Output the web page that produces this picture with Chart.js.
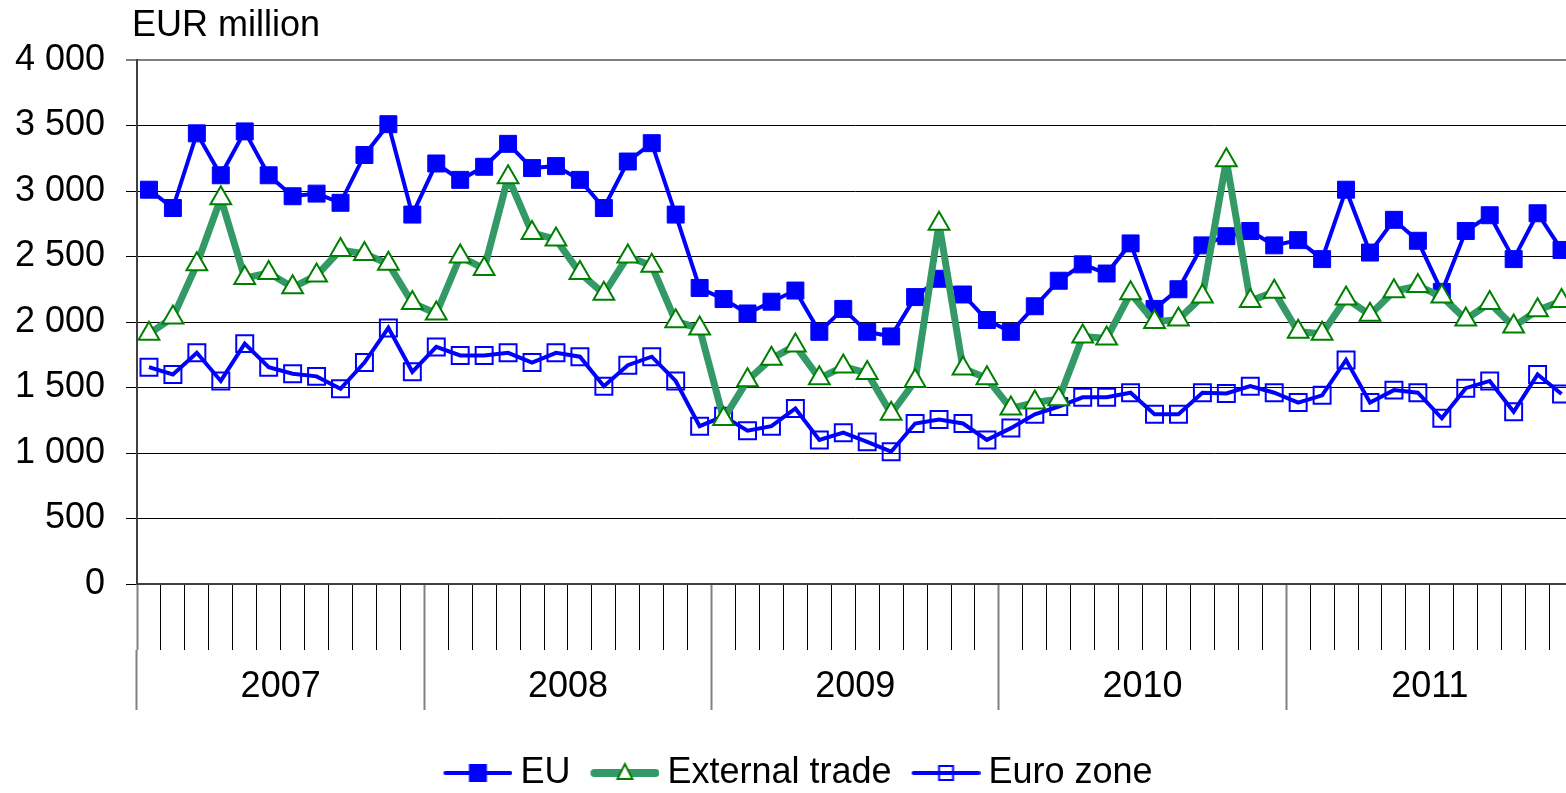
<!DOCTYPE html>
<html>
<head>
<meta charset="utf-8">
<title>EU, External trade, Euro zone (EUR million)</title>
<script src="https://cdn.jsdelivr.net/npm/chart.js@4.4.1/dist/chart.umd.min.js"></script>
<style>
    html, body { margin: 0; padding: 0; background: #fff; overflow: hidden; }
    #wrap { width: 1600px; height: 793px; }
</style>
</head>
<body>
<div id="wrap"><canvas id="tradeChart" width="1600" height="793"></canvas></div>
<script>
// Data
const years = ['2007', '2008', '2009', '2010', '2011'];
const monthNames = ['Jan', 'Feb', 'Mar', 'Apr', 'May', 'Jun', 'Jul', 'Aug', 'Sep', 'Oct', 'Nov', 'Dec'];
const months = years.flatMap(y => monthNames.map(m => m + ' ' + y));

const euValues = [
    3010, 2870, 3440, 3120, 3455, 3120, 2960, 2980, 2910, 3275, 3510, 2820,
    3210, 3085, 3185, 3360, 3175, 3190, 3085, 2870, 3225, 3365, 2820, 2260,
    2175, 2065, 2155, 2240, 1925, 2100, 1925, 1890, 2190, 2330, 2210, 2015,
    1925, 2120, 2315, 2440, 2370, 2600, 2100, 2250, 2585, 2655, 2695, 2585,
    2625, 2480, 3010, 2530, 2780, 2620, 2230, 2695, 2815, 2480, 2830, 2550
];
const externalValues = [
    1910, 2035, 2440, 2945, 2335, 2375, 2265, 2355, 2550, 2520, 2445, 2145,
    2065, 2500, 2405, 3105, 2680, 2630, 2375, 2215, 2500, 2430, 2005, 1950,
    1260, 1555, 1720, 1820, 1570, 1660, 1610, 1300, 1550, 2750, 1645, 1570,
    1340, 1385, 1410, 1890, 1875, 2220, 2000, 2020, 2195, 3235, 2160, 2230,
    1925, 1910, 2180, 2055, 2235, 2275, 2195, 2020, 2145, 1965, 2090, 2160
];
const euroZoneValues = [
    1655, 1600, 1765, 1550, 1835, 1655, 1605, 1585, 1490, 1690, 1955, 1620,
    1810, 1745, 1745, 1765, 1690, 1765, 1735, 1510, 1670, 1735, 1550, 1205,
    1280, 1170, 1205, 1340, 1100, 1155, 1085, 1010, 1225, 1255, 1225, 1100,
    1190, 1295, 1355, 1425, 1425, 1460, 1295, 1295, 1460, 1455, 1510, 1460,
    1385, 1440, 1710, 1385, 1480, 1460, 1265, 1495, 1550, 1315, 1600, 1450
];
const yMax = 4000;
const yStep = 500;

// Colours
const BLUE = '#0000ff';
const SEA_GREEN = '#339966';
const DARK_GREEN = '#008000';

Chart.defaults.font.family = '"Liberation Sans", Arial, sans-serif';
Chart.defaults.font.size = 36;
Chart.defaults.color = '#000';

// Legend symbols: a short line with the marker on it
function makeSymbol(lineColor, lineWidth, drawMarker) {
    const c = document.createElement('canvas');
    c.width = 70;
    c.height = 26;
    const g = c.getContext('2d');
    g.strokeStyle = lineColor;
    g.lineWidth = lineWidth;
    g.lineCap = 'round';
    g.beginPath();
    g.moveTo(1 + lineWidth / 2, 13);
    g.lineTo(70 - lineWidth / 2, 13);
    g.stroke();
    drawMarker(g, 35.5, 13);
    return c;
}

const legendSymbols = [
    makeSymbol(BLUE, 4, (g, x, y) => {
        g.fillStyle = BLUE;
        g.fillRect(x - 9, y - 9, 18, 18);
    }),
    makeSymbol(SEA_GREEN, 8, (g, x, y) => {
        g.beginPath();
        g.moveTo(x, y - 9);
        g.lineTo(x + 7.5, y + 6);
        g.lineTo(x - 7.5, y + 6);
        g.closePath();
        g.fillStyle = '#fff';
        g.fill();
        g.strokeStyle = DARK_GREEN;
        g.lineWidth = 2;
        g.stroke();
    }),
    makeSymbol(BLUE, 4, (g, x, y) => {
        g.strokeStyle = BLUE;
        g.lineWidth = 2;
        g.strokeRect(x - 7, y - 7, 14, 14);
    })
];

// Put the legend row and the unit label where they sit in the original
const LEGEND_CENTER_X = 802.5;
const LEGEND_ROW_Y = 773;
const TITLE_SHIFT_X = -5;
const boxPlacement = {
    id: 'boxPlacement',
    afterLayout(chart) {
        const lg = chart.legend;
        const dx = LEGEND_CENTER_X - (lg.left + lg.right) / 2;
        const dy = LEGEND_ROW_Y - (lg.top + lg.options.labels.padding + 18);
        lg.left += dx;
        lg.right += dx;
        lg.top += dy;
        lg.bottom += dy;

        const tb = chart.titleBlock;
        tb.left += TITLE_SHIFT_X;
        tb.right += TITLE_SHIFT_X;
    }
};

const formatThousands = v => String(v).replace(/\B(?=(\d{3})+(?!\d))/g, ' ');

const ctx = document.getElementById('tradeChart').getContext('2d');
new Chart(ctx, {
    type: 'line',
    data: {
        labels: months,
        datasets: [{
            label: 'EU',
            data: euValues,
            xAxisID: 'x',
            borderColor: BLUE,
            borderWidth: 4,
            pointStyle: 'rect',
            pointRadius: 12,
            pointBackgroundColor: BLUE,
            pointBorderColor: BLUE,
            pointBorderWidth: 1,
            order: 2
        }, {
            label: 'External trade',
            data: externalValues,
            xAxisID: 'x',
            borderColor: SEA_GREEN,
            borderWidth: 7,
            borderJoinStyle: 'round',
            pointStyle: 'triangle',
            pointRadius: 12,
            pointBackgroundColor: '#fff',
            pointBorderColor: DARK_GREEN,
            pointBorderWidth: 2,
            order: 0
        }, {
            label: 'Euro zone',
            data: euroZoneValues,
            xAxisID: 'x',
            borderColor: BLUE,
            borderWidth: 4,
            pointStyle: 'rect',
            pointRadius: 12,
            pointBackgroundColor: 'rgba(0,0,0,0)',
            pointBorderColor: BLUE,
            pointBorderWidth: 2,
            order: 1
        }]
    },
    options: {
        responsive: false,
        animation: false,
        events: [],
        layout: {
            padding: { left: 0, right: 26.5, top: 0, bottom: 8 }
        },
        plugins: {
            tooltip: { enabled: false },
            title: {
                display: true,
                text: 'EUR million',
                align: 'start',
                fullSize: false,
                color: '#000',
                font: { size: 36, weight: 'normal' },
                padding: { top: 4, bottom: 12.8 }
            },
            legend: {
                display: true,
                position: 'bottom',
                align: 'center',
                labels: {
                    usePointStyle: true,
                    pointStyleWidth: 50,
                    padding: 29,
                    color: '#000',
                    font: { size: 36 },
                    generateLabels: chart => chart.data.datasets.map((ds, i) => ({
                        text: ds.label,
                        pointStyle: legendSymbols[i],
                        datasetIndex: i,
                        hidden: false,
                        fillStyle: 'rgba(0,0,0,0)',
                        strokeStyle: 'rgba(0,0,0,0)',
                        lineWidth: 0
                    }))
                }
            }
        },
        scales: {
            x: {
                type: 'category',
                axis: 'x',
                position: 'bottom',
                weight: 0,
                offset: true,
                grid: {
                    display: true,
                    offset: true,
                    drawOnChartArea: false,
                    drawTicks: true,
                    tickLength: 66,
                    tickColor: c => (c.index % 12 === 0 ? '#808080' : '#000'),
                    tickWidth: c => (c.index % 12 === 0 ? 2 : 1)
                },
                border: { display: true, color: '#404040', width: 2 },
                ticks: { display: false, autoSkip: false }
            },
            years: {
                type: 'category',
                axis: 'x',
                labels: years,
                position: 'bottom',
                weight: 1,
                offset: true,
                // year labels sit between the long separators, not under them
                afterFit: scale => { scale.height = 60; },
                grid: {
                    display: true,
                    offset: true,
                    drawOnChartArea: false,
                    drawTicks: true,
                    tickLength: 60,
                    tickColor: '#808080',
                    tickWidth: 2
                },
                border: { display: false },
                ticks: {
                    autoSkip: false,
                    maxRotation: 0,
                    padding: -44.6,
                    color: '#000',
                    font: { size: 36 }
                }
            },
            y: {
                position: 'left',
                min: 0,
                max: yMax,
                afterFit: scale => { scale.width = 137; },
                grid: {
                    color: c => (c.tick && c.tick.value === yMax ? '#808080' : '#000'),
                    lineWidth: c => (c.tick && c.tick.value === yMax ? 2 : 1),
                    drawTicks: true,
                    tickLength: 11,
                    tickColor: '#000',
                    tickWidth: 1
                },
                border: { display: true, color: '#404040', width: 2 },
                ticks: {
                    stepSize: yStep,
                    autoSkip: false,
                    padding: 21,
                    color: '#000',
                    font: { size: 36 },
                    callback: v => formatThousands(v)
                }
            }
        }
    },
    plugins: [boxPlacement]
});
</script>
</body>
</html>
